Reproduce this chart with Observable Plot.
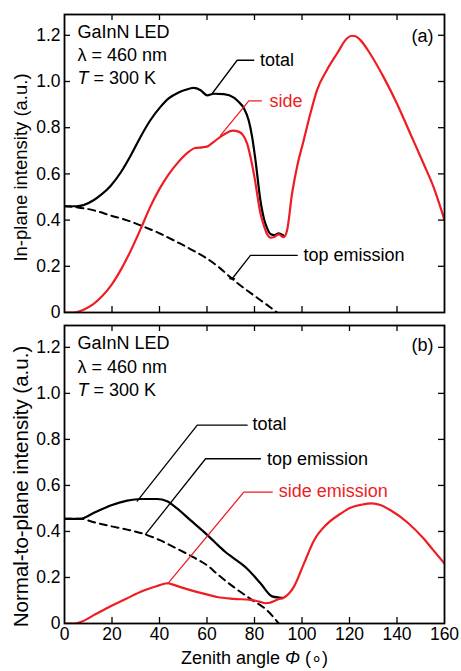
<!DOCTYPE html>
<html><head><meta charset="utf-8">
<script src="https://cdn.jsdelivr.net/npm/d3@7"></script>
<script src="https://cdn.jsdelivr.net/npm/@observablehq/plot@0.6"></script>
<style>body{margin:0;background:#fff;} svg{display:block;}</style>
</head><body><div id="chart"></div>
<script>
const FONT = '"Liberation Sans", Arial, Helvetica, sans-serif';
const RED = "#ee1d23";

const xTickValues = [0, 20, 40, 60, 80, 100, 120, 140, 160];
const yTickValues = [0, 0.2, 0.4, 0.6, 0.8, 1.0, 1.2];
const xTitle = "Zenith angle Φ (∘)";
const yTitleA = "In-plane intensity (a.u.)";
const yTitleB = "Normal-to-plane intensity (a.u.)";
const infoLines = ["GaInN LED", "λ = 460 nm", "T = 300 K"];

// ---- panel (a): in-plane ----
const aTop = [[0,0.46],[5.6,0.455],[12.4,0.442],[19.4,0.42],[26.4,0.399],[32.5,0.375],[40.4,0.341],[47.4,0.305],[54.4,0.267],[61.5,0.223],[65.7,0.19],[69.9,0.152],[74.1,0.117],[80,0.072],[85,0.035],[89.5,0]];
const aTotal = [[0,0.46],[5,0.46],[8,0.465],[12.4,0.487],[15.2,0.508],[19.4,0.548],[23.6,0.605],[28,0.682],[32,0.76],[36,0.83],[40.4,0.89],[44,0.928],[48,0.952],[51,0.964],[54.4,0.972],[57.3,0.962],[60.1,0.94],[62.9,0.947],[67.1,0.945],[71.3,0.93],[73.5,0.91],[75.5,0.885],[77.6,0.83],[79,0.76],[80.4,0.66],[82.5,0.485],[84,0.405],[85.3,0.365],[86.7,0.34],[88.5,0.335],[90.2,0.343],[92.3,0.333]];
const aSide = [[0,0],[4,0],[8,0.012],[12,0.035],[16,0.072],[20,0.123],[24,0.19],[28,0.27],[32.5,0.372],[36,0.455],[40,0.535],[44,0.6],[48,0.652],[52,0.693],[55,0.712],[58,0.715],[60,0.718],[63,0.74],[67,0.77],[71,0.787],[73.5,0.782],[75,0.77],[76.9,0.731],[78.6,0.66],[80,0.585],[82.5,0.43],[84,0.375],[85.3,0.34],[86.7,0.324],[88.5,0.328],[90.2,0.338],[92.3,0.326],[93.7,0.355],[95.8,0.514],[97.9,0.63],[100.7,0.745],[103.5,0.86],[106.3,0.962],[110.5,1.05],[114.7,1.12],[118.9,1.186],[121,1.198],[122.5,1.196],[124.5,1.18],[128.7,1.12],[134.3,1.02],[140,0.904],[145.6,0.774],[151.2,0.644],[155.4,0.543],[160,0.4]];
const aLeaderTotal = [[62.2,0.948],[72.7,1.092],[79.7,1.092]];
const aLeaderSide = [[65.7,0.767],[77.6,0.916],[82.9,0.916]];
const aLeaderTop = [[70.6,0.146],[78.3,0.247],[98,0.247]];
const aLeaderTopCap = [[69.6,0.146],[71.6,0.146]];
const aLabels = [
  {x: 82.3, y: 1.092, text: "total", color: "black"},
  {x: 86.3, y: 0.916, text: "side", color: RED},
  {x: 100.6, y: 0.247, text: "top emission", color: "black"}
];
const aInfoY = [1.213, 1.113, 1.014];

// ---- panel (b): normal-to-plane ----
const bTop = [[0,0.455],[6.7,0.455],[12.4,0.44],[19.4,0.423],[26.4,0.408],[33.4,0.389],[40.4,0.361],[47.4,0.325],[54.4,0.287],[60.8,0.247],[64.3,0.215],[71.3,0.158],[78.3,0.107],[85.3,0.057],[90.2,0]];
const bTotal = [[0,0.455],[6.7,0.455],[12.4,0.481],[19.4,0.513],[26.4,0.534],[32,0.541],[39,0.541],[43.2,0.531],[47.4,0.5],[53,0.449],[58.7,0.398],[61.5,0.371],[64.3,0.343],[67.5,0.313],[71.3,0.283],[76.9,0.238],[82.5,0.175],[87.4,0.118],[90.2,0.113],[92,0.112]];
const bSide = [[0,0],[4,0],[6.7,0.006],[13,0.04],[19.4,0.075],[26,0.108],[33.4,0.143],[39,0.163],[43.2,0.175],[46,0.168],[48.8,0.158],[53,0.145],[57.3,0.133],[61.5,0.122],[64.3,0.115],[71.3,0.107],[78.3,0.103],[82,0.095],[84.6,0.088],[86.5,0.09],[88.1,0.097],[90,0.105],[92.3,0.112],[94.5,0.13],[96.5,0.158],[100.8,0.26],[105,0.36],[110.6,0.433],[116.2,0.477],[120.4,0.503],[125,0.516],[129.5,0.522],[133,0.515],[137.3,0.492],[144.3,0.44],[151.3,0.368],[155,0.322],[160,0.26]];
const bLeaderTotal = [[30.6,0.532],[55.9,0.862],[76.9,0.862]];
const bLeaderTop = [[34.1,0.387],[59.4,0.716],[82.5,0.716]];
const bLeaderSide = [[43.5,0.173],[75.5,0.571],[87.5,0.571]];
const bLabels = [
  {x: 79.2, y: 0.866, text: "total", color: "black"},
  {x: 85.3, y: 0.716, text: "top emission", color: "black"},
  {x: 90.2, y: 0.575, text: "side emission", color: RED}
];
const bInfoY = [1.216, 1.114, 1.013];

const innerX = xTickValues.slice(1, -1);
const innerY = yTickValues.slice(1);
const fmtY = d => d === 0 ? "0" : d.toFixed(1);
const X = d => d[0], Y = d => d[1];

function panel(p) {
  const ML = 64, MR = 17;
  const W = 461 - ML - MR;
  const H = p.height - p.marginTop - p.marginBottom;
  const T = 6;
  const marks = [
    Plot.line(p.top, {x: X, y: Y, stroke: "black", strokeWidth: 2, strokeDasharray: "7,5", curve: "monotone-x", clip: true}),
    Plot.line(p.total, {x: X, y: Y, stroke: "black", strokeWidth: 2.2, curve: "monotone-x", clip: true}),
    Plot.line(p.side, {x: X, y: Y, stroke: RED, strokeWidth: 2.2, curve: "monotone-x", clip: true}),
    ...p.leaders.map(l => Plot.line(l.pts, {x: X, y: Y, stroke: l.color, strokeWidth: 1.3})),
    Plot.text(p.labels, {x: "x", y: "y", text: "text", fill: d => d.color, textAnchor: "start", fontSize: 18}),
    Plot.text(infoLines, {x: () => 5.5, y: (d, i) => p.infoY[i], text: d => d, textAnchor: "start", fontSize: 18}),
    Plot.text([p.tag], {frameAnchor: "top-right", dx: -11, dy: p.tagDy, textAnchor: "end", lineAnchor: "middle", fontSize: 18}),
    Plot.tickX(innerX, {x: d => d, insetTop: H - T, stroke: "black", strokeWidth: 1.3}),
    Plot.tickX(innerX, {x: d => d, insetBottom: H - T, stroke: "black", strokeWidth: 1.3}),
    Plot.tickY(innerY, {y: d => d, insetLeft: W - T, stroke: "black", strokeWidth: 1.3}),
    Plot.tickY(innerY, {y: d => d, insetRight: W - T, stroke: "black", strokeWidth: 1.3}),
    Plot.axisY(yTickValues, {tickSize: 0, tickPadding: 4, tickFormat: fmtY, fontSize: 17.5, label: null}),
    Plot.text([p.yTitle], {frameAnchor: "left", rotate: -90, dx: -43, dy: p.yTitleDy, textAnchor: "middle", lineAnchor: "middle", fontSize: p.yTitleSize}),
    Plot.frame({stroke: "black", strokeWidth: 1.8})
  ];
  if (p.xAxis) {
    marks.push(Plot.axisX(xTickValues, {tickSize: 0, tickPadding: 4, fontSize: 17.5, label: null}));
    marks.push(Plot.text([xTitle], {frameAnchor: "bottom", dy: 35, textAnchor: "middle", lineAnchor: "middle", fontSize: 18}));
  }
  const svg = Plot.plot({
    width: 461, height: p.height,
    marginLeft: ML, marginRight: MR, marginTop: p.marginTop, marginBottom: p.marginBottom,
    x: {domain: [0, 160], axis: p.xAxis ? undefined : null},
    y: {domain: [0, p.yMax]},
    style: {fontFamily: FONT, fontSize: "18px", color: "black", background: "white"},
    marks
  });
  return svg;
}

function italicize(svg, full, part) {
  d3.select(svg).selectAll("text").filter(function () { return this.textContent === full; }).each(function () {
    const el = d3.select(this);
    const i = full.indexOf(part);
    el.text(null);
    el.append("tspan").text(full.slice(0, i));
    el.append("tspan").attr("font-style", "italic").text(part);
    el.append("tspan").text(full.slice(i + part.length));
  });
}

const svgA = panel({
  height: 322, marginTop: 14, marginBottom: 10, yMax: 1.29, xAxis: false,
  top: aTop, total: aTotal, side: aSide,
  leaders: [{pts: aLeaderTotal, color: "black"}, {pts: aLeaderSide, color: RED}, {pts: aLeaderTop, color: "black"}, {pts: aLeaderTopCap, color: "black"}],
  labels: aLabels, infoY: aInfoY, tag: "(a)", tagDy: 22,
  yTitle: yTitleA, yTitleSize: 18.5, yTitleDy: 4
});
const svgB = panel({
  height: 349, marginTop: 3, marginBottom: 48, yMax: 1.295, xAxis: true,
  top: bTop, total: bTotal, side: bSide,
  leaders: [{pts: bLeaderTotal, color: "black"}, {pts: bLeaderTop, color: "black"}, {pts: bLeaderSide, color: RED}],
  labels: bLabels, infoY: bInfoY, tag: "(b)", tagDy: 20,
  yTitle: yTitleB, yTitleSize: 20.5, yTitleDy: 12
});
for (const s of [svgA, svgB]) {
  italicize(s, "T = 300 K", "T");
  italicize(s, xTitle, "Φ");
}
const chart = document.getElementById("chart");
chart.appendChild(svgA);
chart.appendChild(svgB);
</script>
</body></html>
